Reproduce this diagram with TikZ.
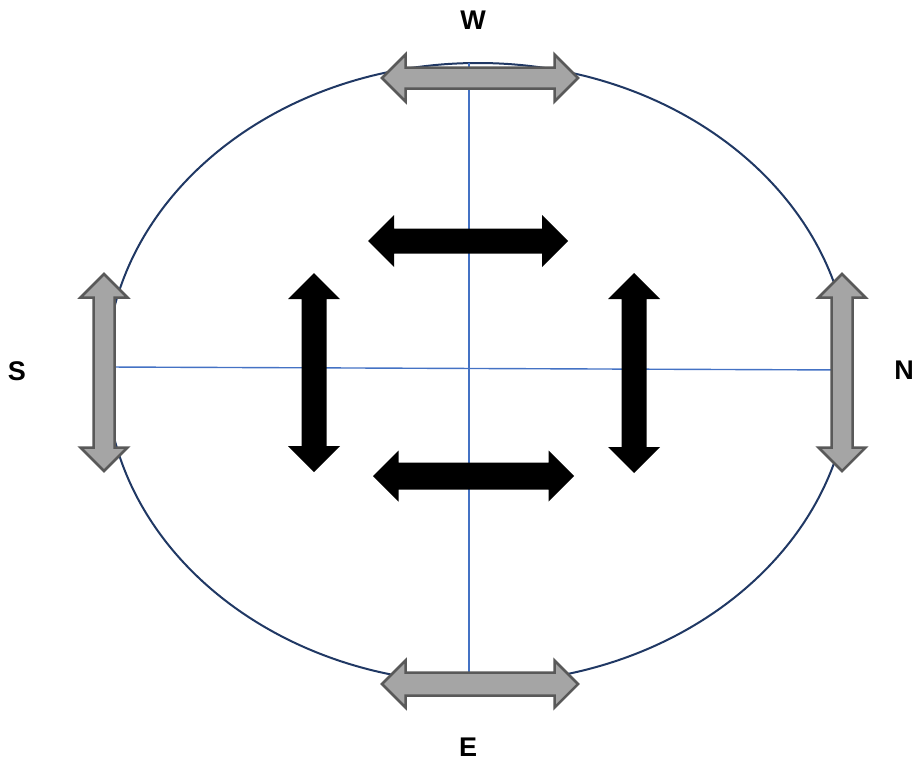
\documentclass[tikz,border=0pt]{standalone}
\usepackage{fontspec}
\setmainfont{Liberation Sans}
\definecolor{ringblue}{HTML}{203864}
\definecolor{axisblue}{HTML}{4472C4}
\definecolor{arrowgray}{HTML}{A5A5A5}
\definecolor{edgegray}{HTML}{595959}
\tikzset{
    compass/.style={font=\fontsize{27}{30}\selectfont\bfseries, inner sep=0pt},
    grayarrow/.style={fill=arrowgray, draw=edgegray, line width=2.5pt, line join=miter},
    blackarrow/.style={fill=black},
    axis/.style={draw=axisblue, line width=1.4pt}
}
% style, centre, rotation, half length, shaft half width, head half width
\newcommand{\dblarrow}[6]{%
    \path[#1, shift={(#2)}, rotate=#3]
        (-#4,0) -- ({-#4+#6},-#6) -- ({-#4+#6},-#5) -- ({#4-#6},-#5) -- ({#4-#6},-#6)
        -- (#4,0) -- ({#4-#6},#6) -- ({#4-#6},#5) -- ({-#4+#6},#5) -- ({-#4+#6},#6) -- cycle;}
\begin{document}
\begin{tikzpicture}[x=1pt, y=-1pt]
            \useasboundingbox (0,0) rectangle (915,763);
            \draw[ringblue, line width=2pt] (478,373) ellipse [x radius=372, y radius=310];
            \coordinate (top) at (469,63);
            \coordinate (bottom) at (469,684);
            \coordinate (left) at (108,367);
            \coordinate (right) at (848,370);
            \draw[axis] (top) -- (bottom);
            \draw[axis] (left) -- (right);
            \dblarrow{grayarrow}{480,78}{0}{98}{10.5}{23.5}
            \dblarrow{grayarrow}{480,684}{0}{98}{11.5}{23.5}
            \dblarrow{grayarrow}{104,372.5}{90}{98.5}{10.5}{23.5}
            \dblarrow{grayarrow}{842,372.5}{90}{98.5}{10.5}{23.5}
            \dblarrow{blackarrow}{468,241}{0}{100}{12.5}{26}
            \dblarrow{blackarrow}{473.5,476}{0}{100.5}{13.5}{25.5}
            \dblarrow{blackarrow}{314,372.5}{90}{99.5}{12.5}{26}
            \dblarrow{blackarrow}{634,373}{90}{100}{12.5}{26}
            \node[compass] (west) at (473,20) {W};
            \node[compass] (south) at (17,371) {S};
            \node[compass] (north) at (904,370) {N};
            \node[compass] (east) at (468,747) {E};
\end{tikzpicture}
\end{document}
